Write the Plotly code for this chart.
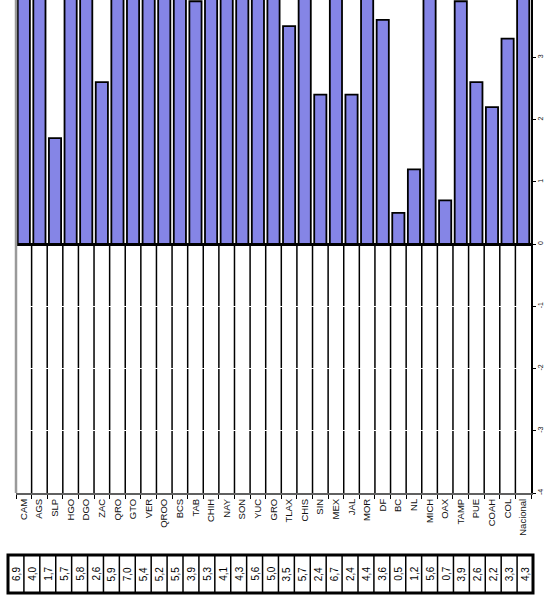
import plotly.graph_objects as go

categories = ["CAM", "AGS", "SLP", "HGO", "DGO", "ZAC", "QRO", "GTO", "VER", "QROO", "BCS",
              "TAB", "CHIH", "NAY", "SON", "YUC", "GRO", "TLAX", "CHIS", "SIN", "MEX", "JAL",
              "MOR", "DF", "BC", "NL", "MICH", "OAX", "TAMP", "PUE", "COAH", "COL", "Nacional"]
values = [6.9, 4.0, 1.7, 5.7, 5.8, 2.6, 5.9, 7.0, 5.4, 5.2, 5.5,
          3.9, 5.3, 4.1, 4.3, 5.6, 5.0, 3.5, 5.7, 2.4, 6.7, 2.4,
          4.4, 3.6, 0.5, 1.2, 5.6, 0.7, 3.9, 2.6, 2.2, 3.3, 4.3]
y_ticks = [-4, -3, -2, -1, 0, 1, 2, 3]
y_ticktext = ["-4", "-3", "-2", "-1", "0", "1", "2", "3"]

W, H = 546, 603
L, R, T, B = 16, 15, 0, 110
pw, ph = W - L - R, H - T - B

def px_x(p):
    return (p - L) / pw

def px_y(p):
    return (H - B - p) / ph

FONT = "Liberation Sans, Arial, sans-serif"
n = len(categories)

fig = go.Figure(go.Bar(
    x=categories, y=values, width=0.78,
    marker=dict(color="#8585e6", line=dict(color="black", width=1.8)),
    hoverinfo="x+y",
))

shapes = []
# vertical separators in the negative region
for i in range(1, n):
    shapes.append(dict(type="line", xref="x", yref="y", x0=i - 0.5, x1=i - 0.5,
                       y0=-4, y1=0, line=dict(color="black", width=1.5), layer="below"))
# left gray border
shapes.append(dict(type="line", xref="paper", yref="paper", x0=0, x1=0, y0=0, y1=1,
                   line=dict(color="#9a9a9a", width=2.5)))

# table
tx0, tx1, ty0, ty1 = 8, 533, 555, 593
cw = (tx1 - tx0) / n
shapes.append(dict(type="rect", xref="paper", yref="paper",
                   x0=px_x(tx0), x1=px_x(tx1), y0=px_y(ty1), y1=px_y(ty0),
                   line=dict(color="black", width=3), fillcolor="white"))
annotations = []
for i in range(n):
    if i > 0:
        xp = tx0 + i * cw
        shapes.append(dict(type="line", xref="paper", yref="paper",
                           x0=px_x(xp), x1=px_x(xp), y0=px_y(ty1), y1=px_y(ty0),
                           line=dict(color="black", width=1.5)))
    annotations.append(dict(
        xref="paper", yref="paper", x=px_x(tx0 + (i + 0.5) * cw), y=px_y((ty0 + ty1) / 2),
        text=f"{values[i]:.1f}".replace(".", ","), showarrow=False, textangle=-90,
        font=dict(family=FONT, size=10, color="black"), xanchor="center", yanchor="middle"))

fig.update_layout(
    width=W, height=H,
    margin=dict(l=L, r=R, t=T, b=B),
    paper_bgcolor="white", plot_bgcolor="white",
    showlegend=False,
    shapes=shapes, annotations=annotations,
    xaxis=dict(
        type="category", range=[-0.5, n - 0.5],
        tickangle=-90, tickson="boundaries", ticks="outside", ticklen=4,
        tickcolor="black", tickwidth=1,
        showgrid=False, showline=True, linecolor="#606060", linewidth=2,
        tickfont=dict(family=FONT, size=9.5, color="#111111"),
        automargin=False,
    ),
    yaxis=dict(
        side="right", range=[-4, 3.92],
        tickvals=y_ticks, ticktext=y_ticktext, tickangle=-90,
        ticks="outside", ticklen=3, tickcolor="black", tickwidth=1,
        ticklabelstandoff=-1,
        showline=True, linecolor="black", linewidth=2,
        showgrid=True, gridcolor="white", gridwidth=1,
        zeroline=True, zerolinecolor="black", zerolinewidth=3,
        tickfont=dict(family=FONT, size=7, color="#111111"),
        automargin=False,
    ),
)

fig.write_html("out.html", config={"displayModeBar": False},
               post_script="document.body.style.margin='0';")
